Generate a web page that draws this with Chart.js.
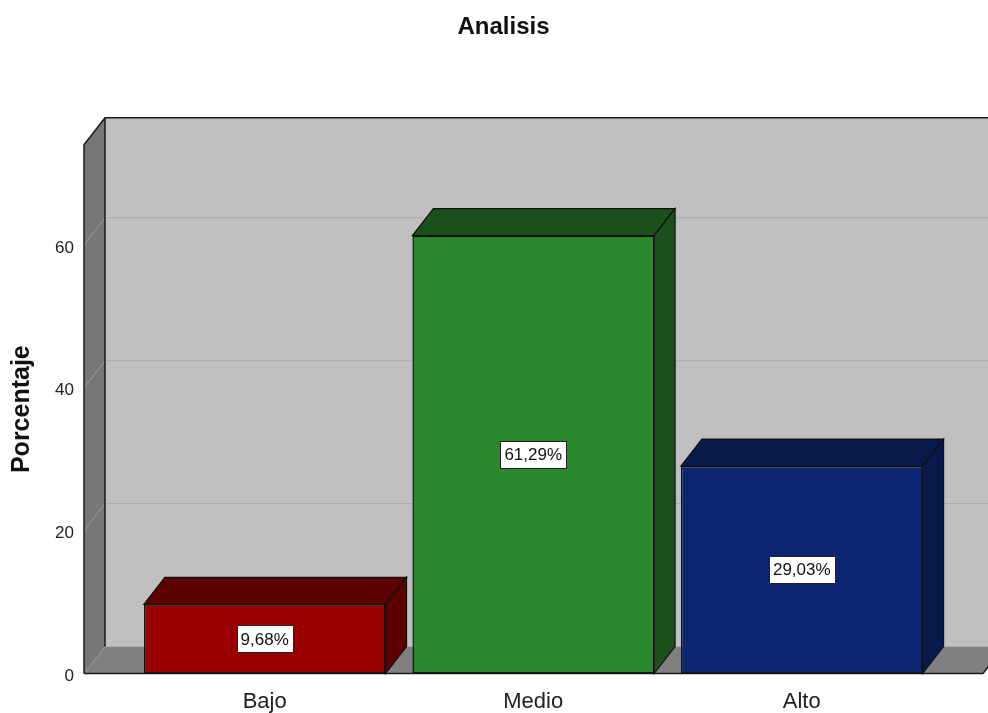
<!DOCTYPE html>
<html>
<head>
<meta charset="utf-8">
<script src="https://cdn.jsdelivr.net/npm/chart.js@4/dist/chart.umd.min.js"></script>
<style>
  body { margin: 0; background: #fff; }
</style>
</head>
<body>
<canvas id="myChart" width="988" height="713"></canvas>
<script>
// DATA
const categories = ["Bajo", "Medio", "Alto"];
const percentages = [9.68, 61.29, 29.03];
const yTicks = [0, 20, 40, 60];

const frontColors = ["#990000", "#2a882c", "#0c2571"];
const darkColors = ["#5c0000", "#1b4f1b", "#081a4c"];

// depth of the fake 3d box
const DX = 21;
const DY = -27;
const FONT = "'Liberation Sans', Arial, sans-serif";

function poly(ctx, pts, fill, stroke, lw) {
  ctx.beginPath();
  ctx.moveTo(pts[0][0], pts[0][1]);
  for (let i = 1; i < pts.length; i++) ctx.lineTo(pts[i][0], pts[i][1]);
  ctx.closePath();
  if (fill) {
    ctx.fillStyle = fill;
    ctx.fill();
  }
  if (stroke) {
    ctx.strokeStyle = stroke;
    ctx.lineWidth = lw || 1;
    ctx.stroke();
  }
}

function line(ctx, pts, color, lw) {
  ctx.beginPath();
  ctx.moveTo(pts[0][0], pts[0][1]);
  for (let i = 1; i < pts.length; i++) ctx.lineTo(pts[i][0], pts[i][1]);
  ctx.strokeStyle = color;
  ctx.lineWidth = lw;
  ctx.stroke();
}

// walls, floor and grid behind the bars
const box3d = {
  id: "box3d",
  beforeDatasetsDraw(chart) {
    const ctx = chart.ctx;
    const a = chart.chartArea;
    const y = chart.scales.y;
    const l = a.left, r = a.right, t = a.top, b = a.bottom;
    ctx.save();
    // back wall
    poly(ctx, [[l + DX, t + DY], [r + DX, t + DY], [r + DX, b + DY], [l + DX, b + DY]], "#c0c0c0");
    // left wall
    poly(ctx, [[l, t], [l + DX, t + DY], [l + DX, b + DY], [l, b]], "#777777");
    // floor
    poly(ctx, [[l, b], [l + DX, b + DY], [r + DX, b + DY], [r, b]], "#808080");
    // grid lines
    yTicks.forEach((v) => {
      if (v === 0) return;
      const py = y.getPixelForValue(v);
      line(ctx, [[l, py], [l + DX, py + DY]], "#9c9c9c", 1);
      line(ctx, [[l + DX, py + DY], [r + DX, py + DY]], "#acacac", 1);
    });
    // edges
    const ink = "#1a1a1a";
    line(ctx, [[l, b], [l, t], [l + DX, t + DY], [r + DX + 20, t + DY]], ink, 1.5);
    line(ctx, [[l + DX, t + DY], [l + DX, b + DY]], ink, 1.5);
    line(ctx, [[l, b], [r, b], [r + DX, b + DY]], ink, 1.5);
    ctx.restore();
  },
  afterDatasetsDraw(chart) {
    const ctx = chart.ctx;
    const meta = chart.getDatasetMeta(0);
    ctx.save();
    meta.data.forEach((bar, i) => {
      const p = bar.getProps(["x", "y", "base", "width"], true);
      const l = p.x - p.width / 2, r = p.x + p.width / 2, t = p.y, b = p.base;
      // top and side faces
      poly(ctx, [[l, t], [l + DX, t + DY], [r + DX, t + DY], [r, t]], darkColors[i], "#111", 1.2);
      poly(ctx, [[r, t], [r + DX, t + DY], [r + DX, b + DY], [r, b]], darkColors[i], "#111", 1.2);

      // value label
      const text = percentages[i].toFixed(2).replace(".", ",") + "%";
      ctx.font = "17px " + FONT;
      const tw = ctx.measureText(text).width;
      const cy = chart.scales.y.getPixelForValue(percentages[i] / 2);
      const bw = Math.round(tw + 8), bh = 27;
      const bx = Math.round(p.x - bw / 2), by = Math.round(cy - bh / 2);
      ctx.fillStyle = "#fff";
      ctx.fillRect(bx, by, bw, bh);
      ctx.strokeStyle = "#222";
      ctx.lineWidth = 1;
      ctx.strokeRect(bx + 0.5, by + 0.5, bw, bh);
      ctx.fillStyle = "#111";
      ctx.textAlign = "center";
      ctx.textBaseline = "middle";
      ctx.fillText(text, p.x, cy + 1);
    });
    ctx.restore();
  },
};

// GRAPHICAL DATA
const data = {
  datasets: [
    {
      label: "Porcentaje",
      data: percentages.map((v, i) => ({ x: i, y: v })),
      backgroundColor: frontColors,
      borderColor: "#111",
      borderWidth: 1.5,
      borderSkipped: false,
      barPercentage: 0.9,
      categoryPercentage: 1,
    },
  ],
};

const config = {
  type: "bar",
  data: data,
  options: {
    responsive: false,
    devicePixelRatio: 1,
    animation: false,
    layout: { padding: { left: 24, right: 5, top: 0, bottom: 0 } },
    plugins: {
      legend: { display: false },
      tooltip: { enabled: false },
      title: {
        display: true,
        text: "Analisis",
        color: "#111",
        font: { family: FONT, size: 24, weight: "bold" },
        padding: { top: 13, bottom: 103 },
      },
    },
    scales: {
      x: {
        type: "linear",
        min: -0.673,
        max: 2.675,
        offset: false,
        grid: { display: false, drawTicks: false },
        border: { display: false },
        afterBuildTicks: (scale) => {
          scale.ticks = categories.map((c, i) => ({ value: i }));
        },
        afterFit: (scale) => {
          scale.height = 39.5;
        },
        ticks: {
          autoSkip: false,
          maxRotation: 0,
          padding: 15,
          color: "#222",
          font: { family: FONT, size: 22 },
          callback: (v) => categories[v],
        },
      },
      y: {
        min: 0,
        max: 74,
        grid: { display: false, drawTicks: false },
        border: { display: false },
        afterFit: (scale) => {
          scale.width = 60;
        },
        ticks: {
          stepSize: 20,
          includeBounds: false,
          padding: 10,
          labelOffset: 3,
          color: "#222",
          font: { family: FONT, size: 17 },
        },
        title: {
          display: true,
          text: "Porcentaje",
          color: "#111",
          padding: { top: -17, bottom: 0 },
          font: { family: FONT, size: 25, weight: "bold" },
        },
      },
    },
  },
  plugins: [box3d],
};

// RENDERING THE GRAPH
const myChart = new Chart(document.getElementById("myChart"), config);
</script>
</body>
</html>
